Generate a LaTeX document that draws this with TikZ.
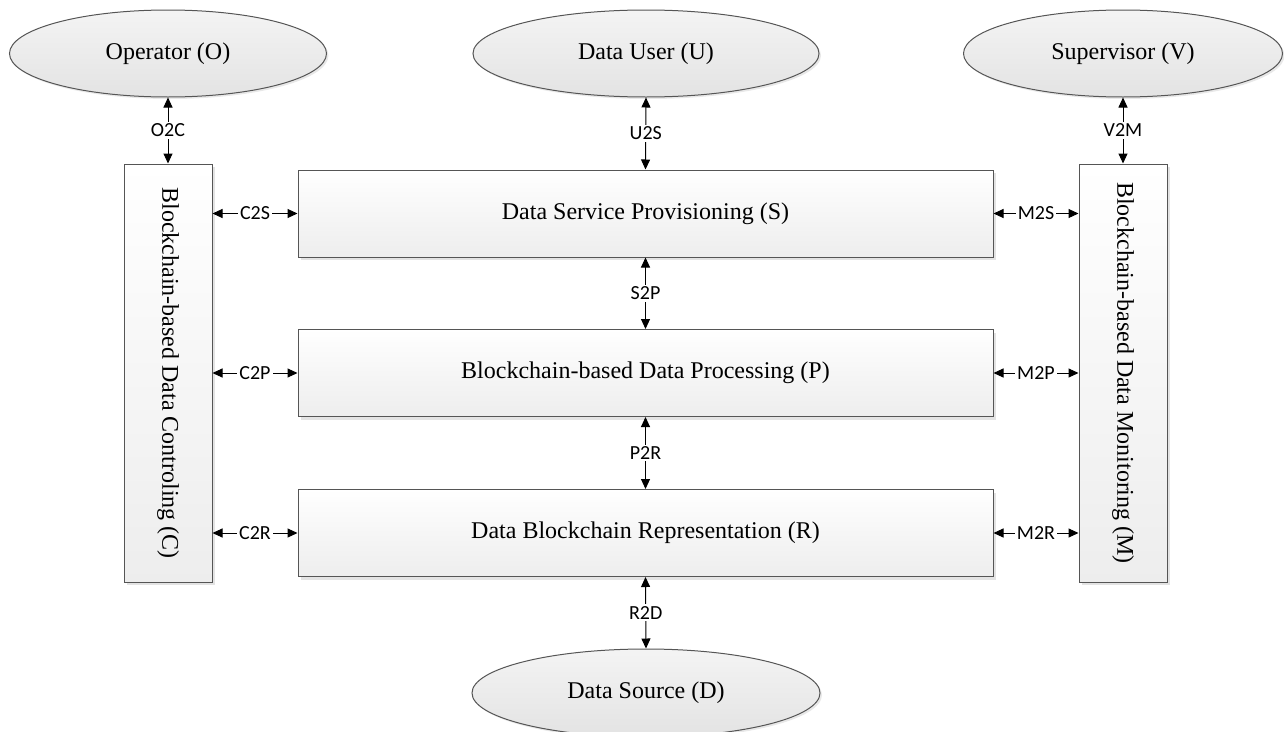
\documentclass[tikz,border=0pt]{standalone}
\usepackage{fontspec}
\setmainfont{Liberation Serif}
\newfontfamily\labfont{Carlito}
\usetikzlibrary{shapes.geometric,arrows.meta,shadows}
\definecolor{edge}{HTML}{555555}
\definecolor{ellfill}{HTML}{EFEFEF}
\tikzset{
  ell/.style={ellipse, draw=edge, line width=1pt, inner sep=0pt,
    top color=ellfill!70!white, bottom color=ellfill!95!black,
    drop shadow={shadow xshift=2pt, shadow yshift=-2pt, opacity=0.18, fill=gray},
    font=\fontsize{24}{28}\selectfont},
  box/.style={rectangle, draw=edge, line width=1pt, inner sep=0pt,
    top color=white, bottom color=black!7,
    drop shadow={shadow xshift=3pt, shadow yshift=-3pt, opacity=0.22, fill=gray},
    font=\fontsize{24}{28}\selectfont},
  hbox/.style={box, minimum width=695pt, minimum height=87pt},
  vbox/.style={box, minimum width=88pt, minimum height=418pt},
  vtext/.style={rotate=-90, font=\fontsize{24}{28}\selectfont},
  conn/.style={line width=1pt, {Triangle[length=10pt,width=9pt]}-{Triangle[length=10pt,width=9pt]}},
  lab/.style={fill=white, inner sep=2pt, font=\labfont\fontsize{20}{22}\selectfont}
}
\begin{document}
\begin{tikzpicture}[x=1pt,y=-1pt]
\useasboundingbox (0,0) rectangle (1284,731);
% ellipses
\node[ell, minimum width=317pt, minimum height=87pt] (O) at (168,53.5) {Operator (O)};
\node[ell, minimum width=346pt, minimum height=87pt] (U) at (646,53.5) {Data User (U)};
\node[ell, minimum width=319pt, minimum height=87pt] (V) at (1123,53.5) {Supervisor (V)};
\node[ell, minimum width=348pt, minimum height=88pt] (D) at (646,693) {Data Source (D)};
% side boxes
\node[vbox] (C) at (168,373) {};
\node[vtext] at (C.center) {Blockchain-based Data Controling (C)};
\node[vbox] (M) at (1123,373) {};
\node[vtext] at (M.center) {Blockchain-based Data Monitoring (M)};
% layer boxes
\node[hbox] (S) at (645.5,213.5) {Data Service Provisioning (S)};
\node[hbox] (P) at (645.5,373) {Blockchain-based Data Processing (P)};
\node[hbox] (R) at (645.5,533) {Data Blockchain Representation (R)};
% connectors
\draw[conn] (O.south) -- node[lab] {O2C} (C.north);
\draw[conn] (U.south) -- node[lab] {U2S} (S.north);
\draw[conn] (V.south) -- node[lab] {V2M} (M.north);
\draw[conn] (S.south) -- node[lab] {S2P} (P.north);
\draw[conn] (P.south) -- node[lab] {P2R} (R.north);
\draw[conn] (R.south) -- node[lab] {R2D} (D.north);
\draw[conn] (C.east |- S.west) -- node[lab] {C2S} (S.west);
\draw[conn] (C.east |- P.west) -- node[lab] {C2P} (P.west);
\draw[conn] (C.east |- R.west) -- node[lab] {C2R} (R.west);
\draw[conn] (S.east) -- node[lab] {M2S} (M.west |- S.east);
\draw[conn] (P.east) -- node[lab] {M2P} (M.west |- P.east);
\draw[conn] (R.east) -- node[lab] {M2R} (M.west |- R.east);
\end{tikzpicture}
\end{document}
